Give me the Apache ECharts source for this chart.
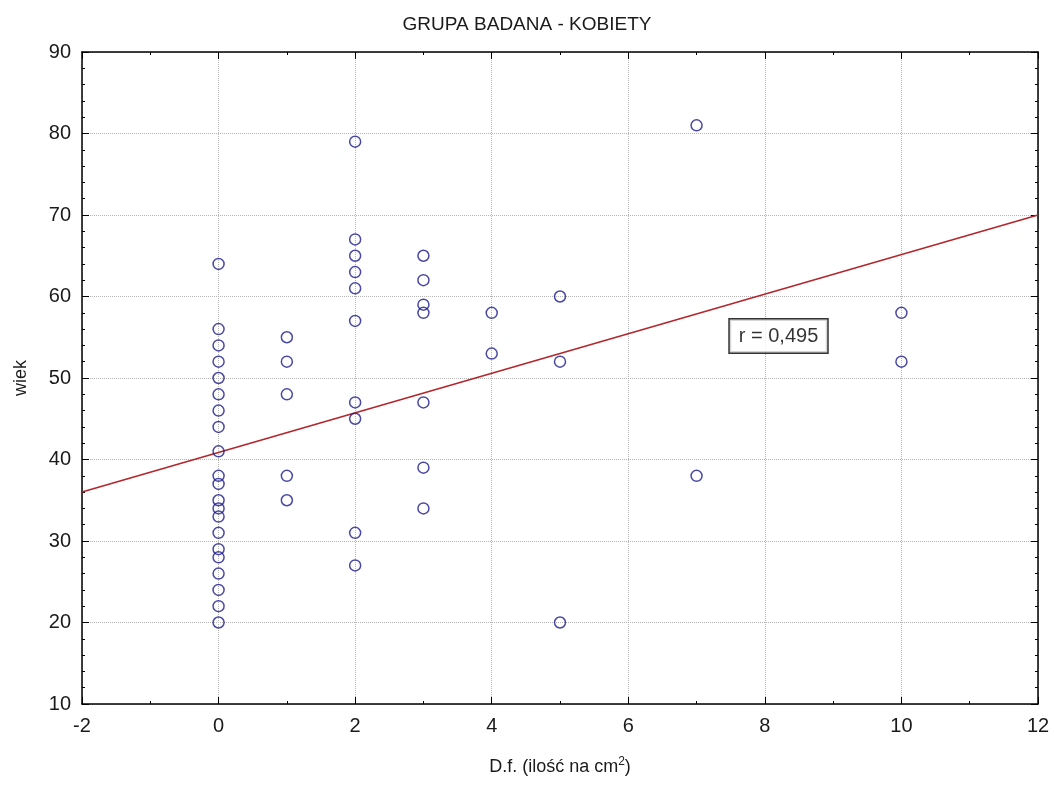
<!DOCTYPE html>
<html>
<head>
<meta charset="utf-8">
<title>GRUPA BADANA - KOBIETY</title>
<script src="https://cdn.jsdelivr.net/npm/echarts@6/dist/echarts.min.js"></script>
<style>
html, body { margin: 0; padding: 0; background: #fff; }
#main { width: 1054px; height: 787px; }
</style>
</head>
<body>
<div id="main"></div>
<script>
// wiek (age) per D.f. column
const age0 = [64, 56, 54, 52, 50, 48, 46, 44, 41, 38, 37, 35, 34, 33, 31, 29, 28, 26, 24, 22, 20];
const age1 = [55, 52, 48, 38, 35];
const age2 = [79, 67, 65, 63, 61, 57, 47, 45, 31, 27];
const age3 = [65, 62, 59, 58, 47, 39, 34];
const age4 = [58, 53];
const age5 = [60, 52, 20];
const age7 = [81, 38];
const age10 = [58, 52];

const dfLevels = [0, 1, 2, 3, 4, 5, 7, 10];
const ageGroups = [age0, age1, age2, age3, age4, age5, age7, age10];

// regression line end points
const fitX = [-2, 12];
const fitY = [36, 70];

// correlation label (centre, data units)
const rText = 'r = 0,495';
const rPos = [8.2, 55.15];

const xTicks = { min: -2, max: 12, interval: 2 };
const yTicks = { min: 10, max: 90, interval: 10 };

const points = [];
dfLevels.forEach(function (df, i) {
    ageGroups[i].forEach(function (a) {
        points.push([df, a]);
    });
});
const fitLine = fitX.map(function (x, i) { return [x, fitY[i]]; });

const font = '"Liberation Sans", Arial, sans-serif';
const axisLine = { onZero: false, lineStyle: { color: '#000', width: 1.5 } };
const axisTick = { inside: true, length: 7, lineStyle: { color: '#000', width: 1 } };
const grid = { show: true, lineStyle: { type: 'dotted', color: '#b4b4b4', width: 1 } };

function frameAxis(pos, ticks, minorSplit) {
    return {
        type: 'value', position: pos,
        min: ticks.min, max: ticks.max, interval: ticks.interval,
        axisLine: axisLine, axisTick: axisTick,
        minorTick: { show: true, splitNumber: minorSplit, length: 3, lineStyle: { color: '#000' } },
        axisLabel: { show: false }, splitLine: { show: false }
    };
}

const chart = echarts.init(document.getElementById('main'));
chart.setOption({
    animation: false,
    backgroundColor: '#fff',
    textStyle: { fontFamily: font },
    title: {
        text: 'GRUPA BADANA - KOBIETY',
        left: 'center', top: 10,
        textStyle: { fontSize: 19, fontWeight: 'normal', color: '#1a1a1a', fontFamily: font }
    },
    grid: { left: 82, right: 16, top: 52, bottom: 83 },
    xAxis: [{
        type: 'value', position: 'bottom',
        min: xTicks.min, max: xTicks.max, interval: xTicks.interval,
        axisLine: axisLine, axisTick: axisTick,
        minorTick: { show: true, splitNumber: 2, length: 3, lineStyle: { color: '#000' } },
        splitLine: grid,
        axisLabel: { fontSize: 20, color: '#1a1a1a', margin: 12 },
        name: '{a|D.f. (ilość na cm}{s|2}{a|)}',
        nameLocation: 'middle', nameGap: 52,
        nameTextStyle: {
            rich: {
                a: { fontSize: 18, color: '#1a1a1a', fontFamily: font },
                s: { fontSize: 12, color: '#1a1a1a', fontFamily: font, verticalAlign: 'top', padding: [0, 0, 10, 0] }
            }
        }
    }, frameAxis('top', xTicks, 2)],
    yAxis: [{
        type: 'value', position: 'left',
        min: yTicks.min, max: yTicks.max, interval: yTicks.interval,
        axisLine: axisLine, axisTick: axisTick,
        minorTick: { show: true, splitNumber: 5, length: 3, lineStyle: { color: '#000' } },
        splitLine: grid,
        axisLabel: { fontSize: 20, color: '#1a1a1a', margin: 11 },
        name: 'wiek', nameLocation: 'middle', nameGap: 52,
        nameTextStyle: { fontSize: 18, color: '#1a1a1a' }
    }, frameAxis('right', yTicks, 5)],
    series: [{
        type: 'line',
        data: fitLine,
        showSymbol: false,
        z: 1,
        lineStyle: { color: '#b3262c', width: 1.6 }
    }, {
        type: 'scatter',
        data: points,
        symbol: 'circle',
        symbolSize: 11,
        z: 3,
        itemStyle: { color: 'rgba(0,0,0,0)', borderColor: '#1c1c8e', borderWidth: 1.5 }
    }, {
        type: 'scatter',
        data: [rPos],
        symbolSize: 1,
        silent: true,
        z: 4,
        itemStyle: { color: 'rgba(0,0,0,0)' },
        label: {
            show: true, position: 'inside',
            formatter: rText,
            fontSize: 20, color: '#000',
            backgroundColor: '#fff',
            borderColor: '#000', borderWidth: 1.5,
            padding: [7, 9, 6, 9]
        }
    }]
});
// resize with window
window.addEventListener('resize', function () {
    chart.resize();
});
</script>
</body>
</html>
